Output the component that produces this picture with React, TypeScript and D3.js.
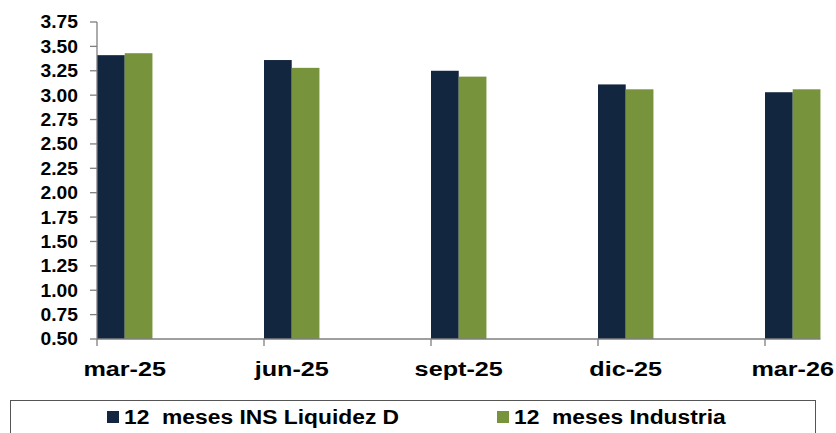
import React from "react";
import * as d3 from "d3";

const categories = ["mar-25", "jun-25", "sept-25", "dic-25", "mar-26"];
const seriesNames = ["12  meses INS Liquidez D", "12  meses Industria"];
const insValues = [3.41, 3.36, 3.25, 3.11, 3.03];
const industriaValues = [3.43, 3.28, 3.19, 3.06, 3.06];
const yTicks = [0.5, 0.75, 1.0, 1.25, 1.5, 1.75, 2.0, 2.25, 2.5, 2.75, 3.0, 3.25, 3.5, 3.75];

const colors = ["#13263f", "#77933c"];
const axisColor = "#7f7f7f";
const font = "'Liberation Sans', Arial, sans-serif";

const width = 836;
const height = 433;
const left = 97;
const top = 22;
const bottom = 339;

const App: React.FC = () => {
  const series = [insValues, industriaValues];

  const x = d3
    .scaleBand<string>()
    .domain(categories)
    .range([left, left + 167 * categories.length])
    .padding(0);

  const y = d3.scaleLinear().domain([0.5, 3.75]).range([bottom, top]);

  const barW = x.bandwidth() * 0.166;
  const axisEnd = (x(categories[categories.length - 1]) ?? 0) + barW * 2;

  return (
    <svg
      width={width}
      height={height}
      style={{ position: "absolute", left: 0, top: 0, background: "#fff" }}
    >
      {/* bars */}
      {categories.map((c, i) => (
        <g key={c}>
          {series.map((s, k) => (
            <rect
              key={k}
              x={(x(c) ?? 0) + k * barW}
              y={y(s[i])}
              width={barW}
              height={bottom - y(s[i])}
              fill={colors[k]}
            />
          ))}
        </g>
      ))}

      {/* y axis */}
      <line x1={left} x2={left} y1={top} y2={bottom} stroke={axisColor} strokeWidth={1.3} />
      {yTicks.map((t) => (
        <g key={t}>
          <line x1={left - 7} x2={left} y1={y(t)} y2={y(t)} stroke={axisColor} strokeWidth={1.3} />
          <text
            transform={`translate(78, ${y(t)}) scale(1.07, 1)`}
            dy="0.36em"
            textAnchor="end"
            fontFamily={font}
            fontWeight="bold"
            fontSize={18}
            fill="#000"
          >
            {t.toFixed(2)}
          </text>
        </g>
      ))}

      {/* x axis */}
      <line x1={left} x2={axisEnd} y1={bottom} y2={bottom} stroke={axisColor} strokeWidth={1.3} />
      {categories.map((c) => (
        <g key={c}>
          <line
            x1={x(c) ?? 0}
            x2={x(c) ?? 0}
            y1={bottom}
            y2={bottom + 7}
            stroke={axisColor}
            strokeWidth={1.3}
          />
          <text
            transform={`translate(${(x(c) ?? 0) + barW}, 376) scale(1.2, 1)`}
            textAnchor="middle"
            fontFamily={font}
            fontWeight="bold"
            fontSize={21}
            fill="#000"
          >
            {c}
          </text>
        </g>
      ))}

      {/* legend */}
      <rect x={10.5} y={400.5} width={805} height={40} fill="none" stroke="#555" strokeWidth={1} />
      {seriesNames.map((name, k) => {
        const lx = k === 0 ? 107 : 497;
        return (
          <g key={name}>
            <rect x={lx} y={411} width={12} height={12} fill={colors[k]} />
            <text
              transform={`translate(${lx + 17}, 424) scale(1.17, 1)`}
              fontFamily={font}
              fontWeight="bold"
              fontSize={19.5}
              fill="#000"
              style={{ whiteSpace: "pre" }}
            >
              {name}
            </text>
          </g>
        );
      })}
    </svg>
  );
};

export default App;
